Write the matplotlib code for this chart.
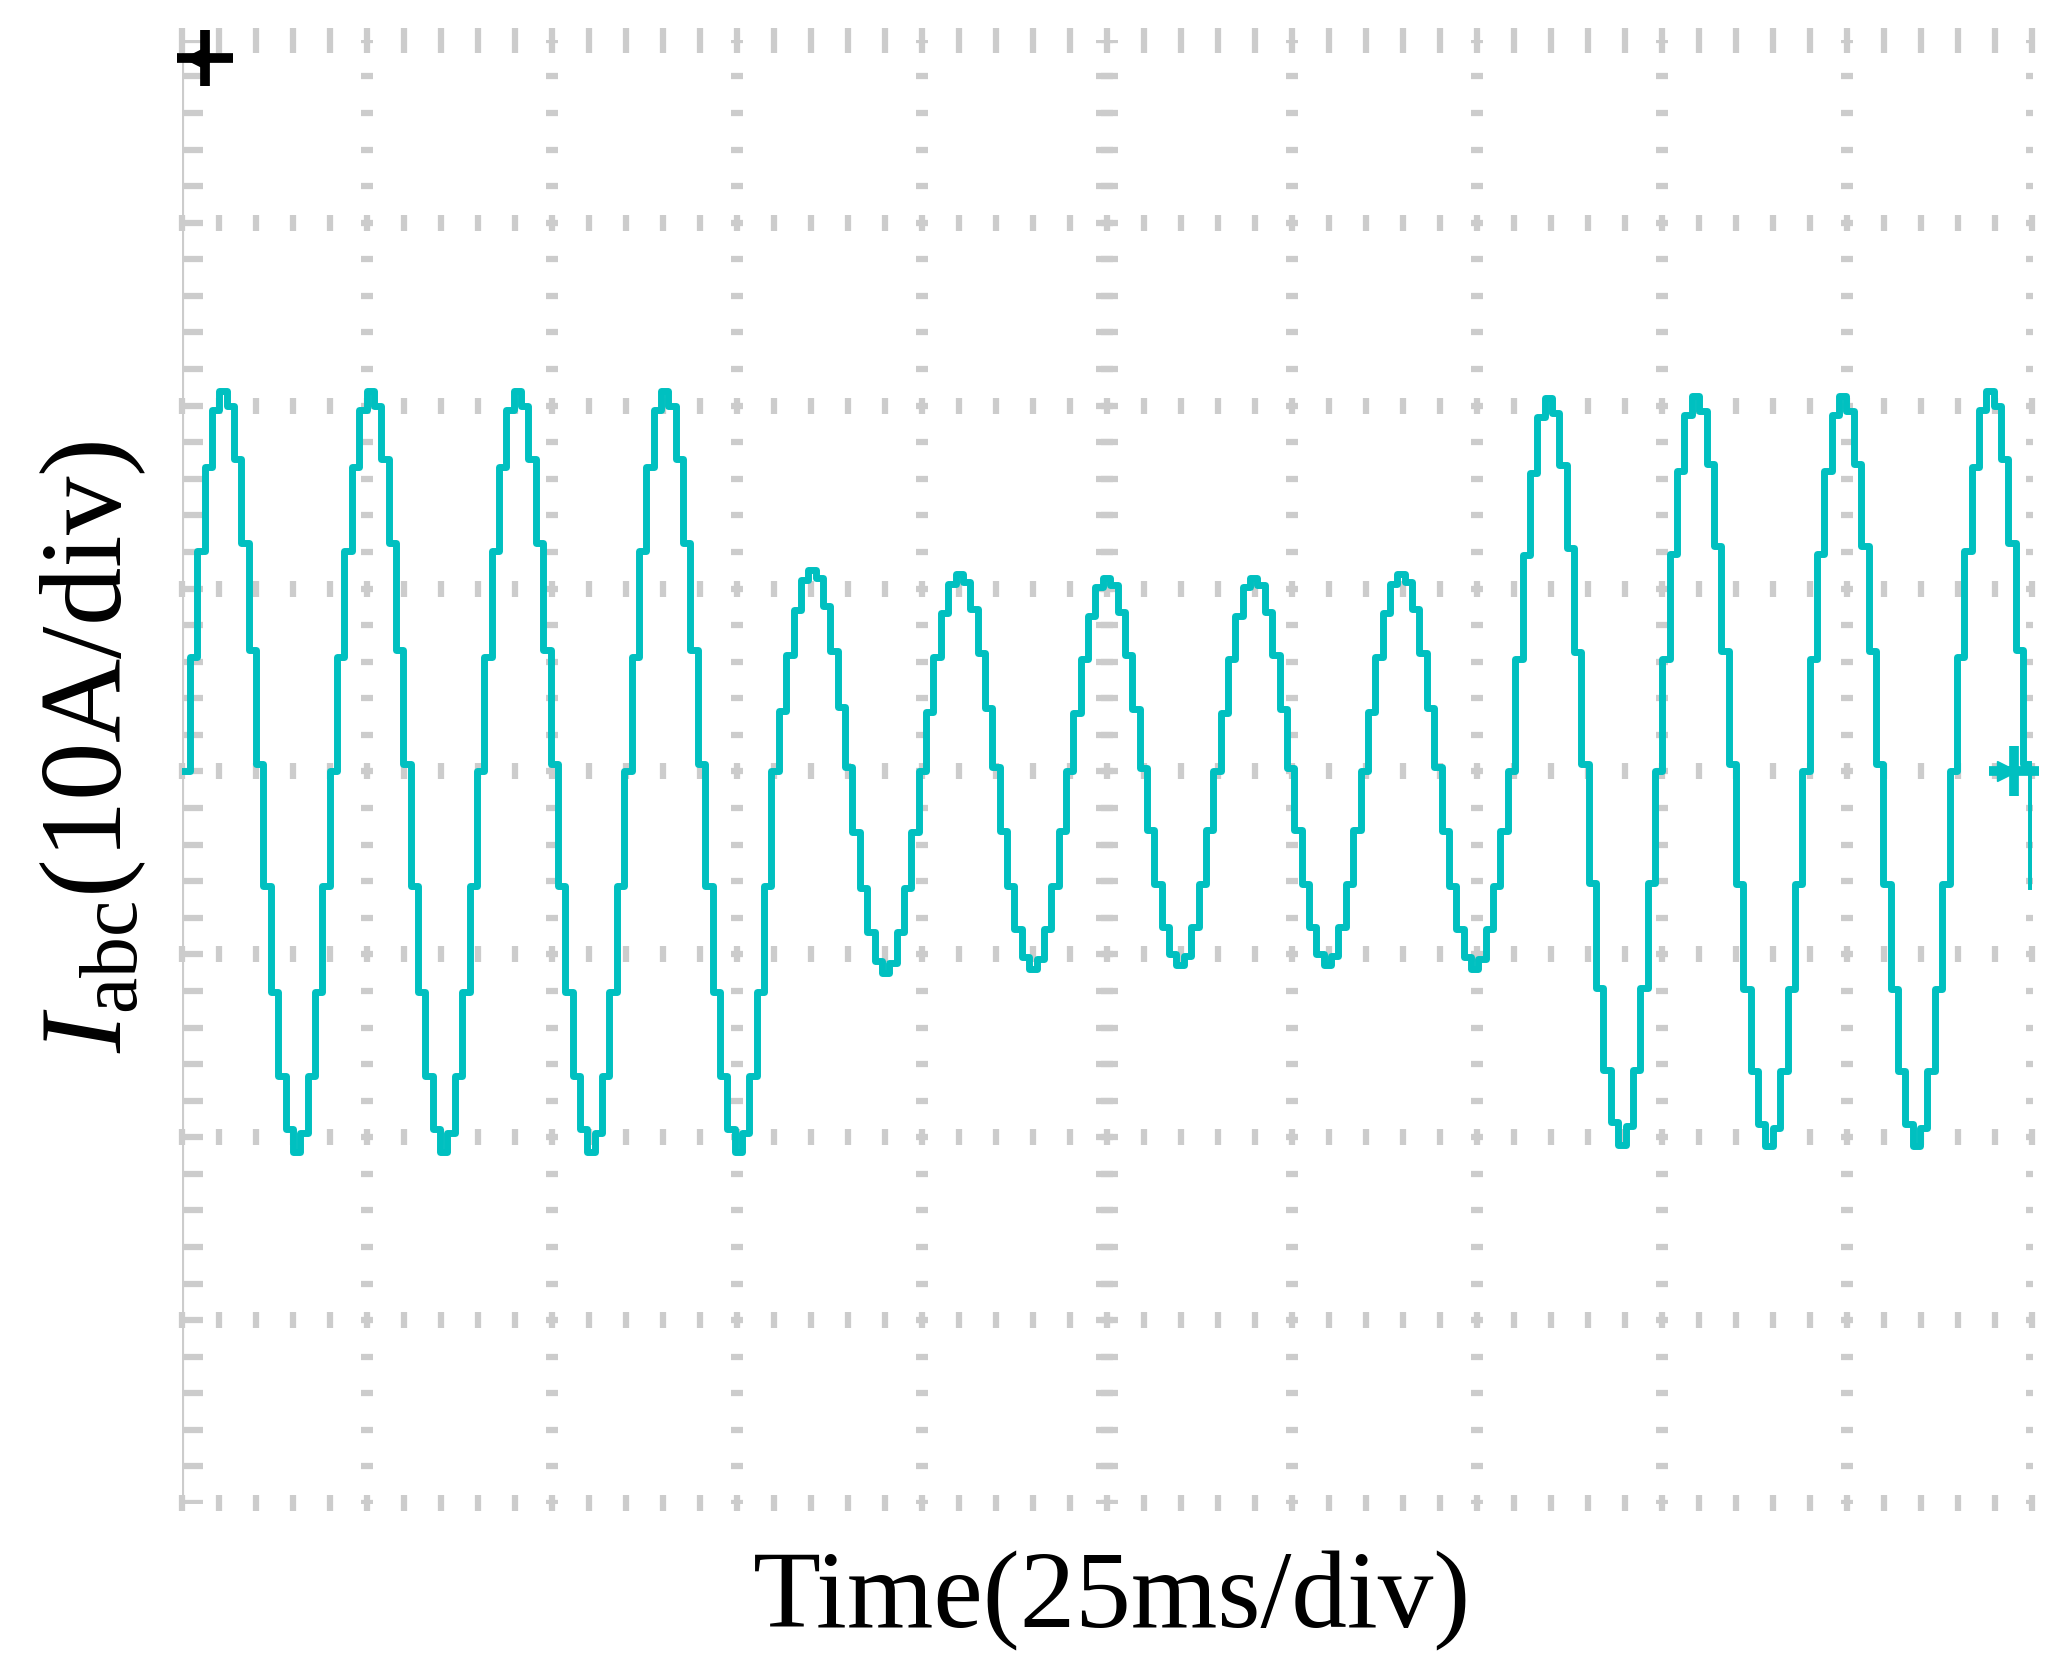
import numpy as np
import matplotlib
matplotlib.use("Agg")
import matplotlib.pyplot as plt
plt.rcParams['mathtext.fontset'] = 'custom'
plt.rcParams['mathtext.it'] = 'Liberation Serif:italic'
plt.rcParams['mathtext.rm'] = 'Liberation Serif'

# one cycle staircase shape (normalized), sampled levels
cycle_shape = [0.0, 0.3, 0.58, 0.8, 0.95, 1.0, 0.96, 0.82, 0.6, 0.32, 0.02,
               -0.3, -0.58, -0.8, -0.94, -1.0, -0.95, -0.8, -0.58, -0.3]
# amplitude per cycle (divisions)
cycle_amp = [2.08, 2.08, 2.08, 2.08, 1.1, 1.08, 1.06, 1.06, 1.08, 2.04, 2.05, 2.05, 2.08]
period_div = 0.796

fig = plt.figure(figsize=(20.59, 16.59), dpi=100)
ax = fig.add_axes([0.0886, 0.094, 0.8985, 0.882])
ax.set_xlim(0, 10)
ax.set_ylim(-4, 4)
for s in ax.spines.values():
    s.set_visible(False)
ax.set_xticks([]); ax.set_yticks([])

g = '#cccccc'
xs_minor = np.arange(0, 10.001, 0.2)
ys_minor = np.arange(-4, 4.001, 0.2)
for yv in range(-4, 5):
    ms = 18 if yv == 4 else 12
    ax.plot(xs_minor, np.full_like(xs_minor, yv), ls='none', marker='|', ms=ms, mew=4.5, color=g, zorder=1, clip_on=False)
for xv in range(1, 11):
    ax.plot(np.full_like(ys_minor, xv), ys_minor, ls='none', marker='_', ms=8, mew=4.5, color=g, zorder=1)
ax.plot(np.full_like(ys_minor, 0.05), ys_minor, ls='none', marker='_', ms=16, mew=4.5, color=g, zorder=1)
ax.axvline(0, color=g, lw=3, zorder=1)
ax.plot(np.full_like(ys_minor, 5), ys_minor, ls='none', marker='_', ms=16, mew=4.5, color=g, zorder=1)

# waveform
n = len(cycle_shape)
dt = period_div / n
vals = []
for a in cycle_amp:
    vals.extend([a * v for v in cycle_shape])
vals = np.array(vals)
t = np.arange(len(vals)) * dt
mask = t <= 10
ax.step(t[mask], vals[mask], where='post', color='#00c0c0', lw=5, zorder=3, clip_on=True)

# markers
ax.plot([0.12], [3.9], marker='+', ms=40, mew=7, color='black', clip_on=False, zorder=4)
ax.plot([0.06], [3.9], marker='<', ms=14, color='black', clip_on=False, zorder=4)
ax.plot([9.9], [0], marker='+', ms=36, mew=7, color='#00c0c0', clip_on=False, zorder=4)
ax.plot([9.86], [0], marker='>', ms=14, color='#00c0c0', clip_on=False, zorder=4)

fig.text(0.54, 0.035, 'Time(25ms/div)', ha='center', va='center', fontsize=80, family='Liberation Serif')
fig.text(0.045, 0.55, r'$I_{\mathrm{abc}}$(10A/div)', ha='center', va='center', rotation=90,
         fontsize=84, family='Liberation Serif')
fig.savefig('out.png', dpi=100)
